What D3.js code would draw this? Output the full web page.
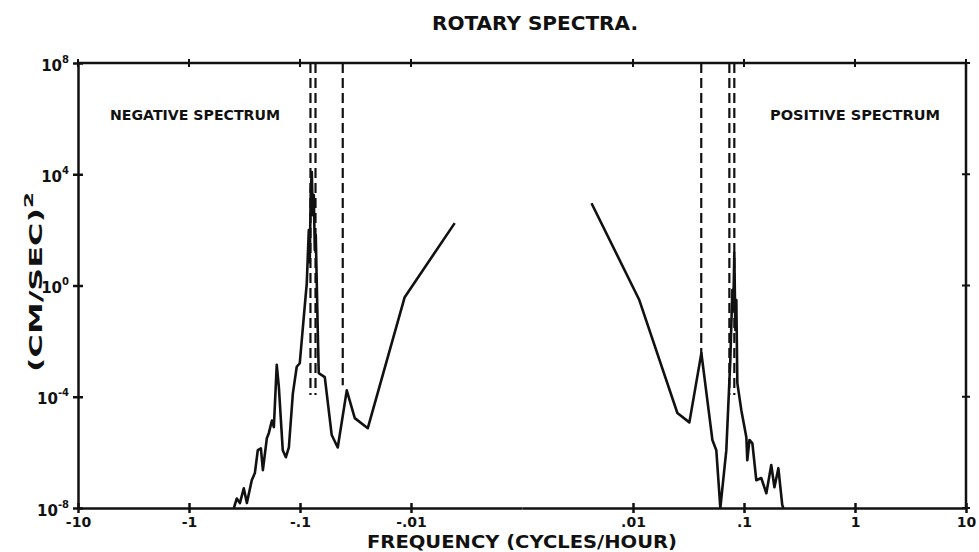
<!DOCTYPE html>
<html>
<head>
<meta charset="utf-8">
<script src="https://cdn.jsdelivr.net/npm/d3@7"></script>
<style>
  body { margin: 0; background: #fff; }
  svg { display: block; }
  text { font-family: 'DejaVu Sans', sans-serif; font-weight: bold; fill: #111; }
  .axis path, .axis line { stroke: #111; stroke-width: 2.5; }
  .axis text { font-size: 14px; }
</style>
</head>
<body>
<svg width="979" height="552"></svg>
<script>
// negative (clockwise) part of the spectrum, frequency in cycles/hour
const negFreq = [-0.394, -0.371, -0.348, -0.321, -0.301, -0.272, -0.255, -0.240, -0.225, -0.216,
  -0.199, -0.191, -0.179, -0.172, -0.162, -0.155, -0.143, -0.134, -0.126, -0.116,
  -0.107, -0.1005, -0.0925, -0.0869, -0.0833, -0.0817, -0.0800, -0.0783, -0.0767, -0.0751,
  -0.0736, -0.0721, -0.0692, -0.0678, -0.0598, -0.0518, -0.0457, -0.0379, -0.0321, -0.0245,
  -0.0114, -0.00404];
const negPower = [1.0e-8, 2.2e-8, 1.5e-8, 5.1e-8, 1.5e-8, 1.0e-7, 1.8e-7, 1.2e-6, 1.4e-6, 2.3e-7,
  3.2e-6, 4.9e-6, 1.4e-5, 8.1e-6, 1.4e-3, 2.2e-4, 1.2e-6, 6.7e-7, 1.5e-6, 1.3e-4,
  1.2e-3, 1.6e-3, 0.072, 1.2, 98, 6.9, 2700, 12000, 340, 1800,
  19, 65, 0.025, 7.1e-4, 5.1e-4, 4.2e-6, 1.5e-6, 1.7e-4, 1.7e-5, 7.4e-6,
  0.38, 175];

// positive (anticlockwise) part
const posFreq = [0.00423, 0.0114, 0.0251, 0.0322, 0.0413, 0.0519, 0.0563, 0.0612, 0.0693, 0.0753,
  0.0785, 0.0801, 0.0818, 0.0836, 0.0853, 0.0871, 0.0946, 0.105, 0.107, 0.112,
  0.119, 0.129, 0.143, 0.159, 0.176, 0.188, 0.204, 0.221, 0.226];
const posPower = [910, 0.30, 2.6e-5, 1.2e-5, 3.7e-3, 2.8e-6, 1.2e-6, 1.0e-8, 1.2e-6, 2.1e-3,
  0.68, 0.13, 15, 0.025, 0.30, 3.1e-4, 3.3e-5, 3.5e-6, 5.2e-7, 2.8e-6,
  2.1e-6, 1.0e-7, 1.2e-7, 3.4e-8, 3.5e-7, 5.6e-8, 2.7e-7, 1.3e-8, 1.0e-8];

// dashed marker lines (tidal / inertial frequencies) and where they stop
const markFreq = [-0.0805, -0.0725, -0.0412, 0.0412, 0.0738, 0.0818];
const markLow = [1.15e-4, 1.15e-4, 2.6e-4, 2.6e-3, 1.15e-4, 1.15e-4];

const xTicksNeg = [10, 1, 0.1, 0.01];
const xLabelsNeg = ['-10', '-1', '-.1', '-.01'];
const xTicksPos = [0.01, 0.1, 1, 10];
const xLabelsPos = ['.01', '.1', '1', '10'];
const yTicks = [1e8, 1e4, 1, 1e-4, 1e-8];
const yExps = ['8', '4', '0', '-4', '-8'];

const svg = d3.select('svg');

const x0 = 78, xMid = 522, x1 = 966, y0 = 63, y1 = 508;

const xNeg = d3.scaleLog().domain([10, 0.001]).range([x0, xMid]);
const xPos = d3.scaleLog().domain([0.001, 10]).range([xMid, x1]);
const y = d3.scaleLog().domain([1e-8, 1e8]).range([y1, y0]);
const xOf = (f) => f < 0 ? xNeg(-f) : xPos(f);

svg.append('clipPath').attr('id', 'plot')
  .append('rect')
  .attr('x', x0).attr('y', y0)
  .attr('width', x1 - x0).attr('height', y1 - y0);

// frame: top and right
svg.append('path')
  .attr('d', `M${x0},${y0}H${x1}V${y1}`)
  .attr('fill', 'none').attr('stroke', '#111').attr('stroke-width', 2.5);

// top ticks
svg.selectAll('.ttick')
  .data(xTicksNeg.map((t) => xNeg(t)).concat(xTicksPos.map((t) => xPos(t))))
  .enter().append('line')
  .attr('x1', (d) => d).attr('x2', (d) => d)
  .attr('y1', y0 - 4).attr('y2', y0 + 4)
  .attr('stroke', '#111').attr('stroke-width', 2);

// bottom axis, two halves
const crossTicks = (g) => g.selectAll('.tick line').attr('y1', -5).attr('y2', 5);

svg.append('g').attr('class', 'axis')
  .attr('transform', `translate(0,${y1})`)
  .call(d3.axisBottom(xNeg).tickValues(xTicksNeg)
    .tickFormat((d, i) => xLabelsNeg[i]).tickSizeOuter(0).tickPadding(3))
  .call(crossTicks);

svg.append('g').attr('class', 'axis')
  .attr('transform', `translate(0,${y1})`)
  .call(d3.axisBottom(xPos).tickValues(xTicksPos)
    .tickFormat((d, i) => xLabelsPos[i]).tickSizeOuter(0).tickPadding(3))
  .call(crossTicks);

// left axis
const yAxis = svg.append('g').attr('class', 'axis')
  .attr('transform', `translate(${x0},0)`)
  .call(d3.axisLeft(y).tickValues(yTicks).tickFormat('').tickSizeOuter(0))
  .call((g) => g.selectAll('.tick line').attr('x1', -5).attr('x2', 5));

yAxis.selectAll('.tick').append('text')
  .attr('x', -9).attr('y', 7)
  .attr('text-anchor', 'end')
  .style('font-size', '15px')
  .each(function (d, i) {
    const t = d3.select(this);
    t.append('tspan').text('10');
    t.append('tspan').attr('dy', -8).style('font-size', '10px').text(yExps[i]);
  });

// right axis ticks
svg.selectAll('.rtick')
  .data(yTicks)
  .enter().append('line')
  .attr('x1', x1 - 4).attr('x2', x1 + 4)
  .attr('y1', (d) => y(d)).attr('y2', (d) => y(d))
  .attr('stroke', '#111').attr('stroke-width', 2);

// dashed markers
svg.selectAll('.mark')
  .data(markFreq)
  .enter().append('line')
  .attr('x1', (d) => xOf(d)).attr('x2', (d) => xOf(d))
  .attr('y1', y0).attr('y2', (d, i) => y(markLow[i]))
  .attr('stroke', '#111').attr('stroke-width', 2.2)
  .attr('stroke-dasharray', '10,5');

// spectra
const line = d3.line()
  .x((d) => xOf(d[0]))
  .y((d) => y(d[1]));

const plot = svg.append('g').attr('clip-path', 'url(#plot)');

plot.append('path')
  .datum(d3.zip(negFreq, negPower))
  .attr('d', line)
  .attr('fill', 'none').attr('stroke', '#111')
  .attr('stroke-width', 2.6).attr('stroke-linejoin', 'round');

plot.append('path')
  .datum(d3.zip(posFreq, posPower))
  .attr('d', line)
  .attr('fill', 'none').attr('stroke', '#111')
  .attr('stroke-width', 2.6).attr('stroke-linejoin', 'round');

// labels
svg.append('text')
  .attr('x', 535).attr('y', 30)
  .attr('text-anchor', 'middle')
  .attr('textLength', 206).attr('lengthAdjust', 'spacingAndGlyphs')
  .style('font-size', '19px')
  .text('ROTARY SPECTRA.');

svg.append('text')
  .attr('x', 110).attr('y', 120)
  .attr('textLength', 170).attr('lengthAdjust', 'spacingAndGlyphs')
  .style('font-size', '14px')
  .text('NEGATIVE SPECTRUM');

svg.append('text')
  .attr('x', 770).attr('y', 120)
  .attr('textLength', 170).attr('lengthAdjust', 'spacingAndGlyphs')
  .style('font-size', '14px')
  .text('POSITIVE SPECTRUM');

svg.append('text')
  .attr('x', 522).attr('y', 548)
  .attr('text-anchor', 'middle')
  .attr('textLength', 310).attr('lengthAdjust', 'spacingAndGlyphs')
  .style('font-size', '18px')
  .text('FREQUENCY (CYCLES/HOUR)');

const yl = svg.append('text')
  .attr('transform', 'translate(42,282) rotate(-90)')
  .attr('text-anchor', 'middle')
  .attr('textLength', 180).attr('lengthAdjust', 'spacingAndGlyphs')
  .style('font-size', '18px');
yl.append('tspan').text('(CM/SEC)');
yl.append('tspan').attr('dy', -9).style('font-size', '13px').text('2');
</script>
</body>
</html>
